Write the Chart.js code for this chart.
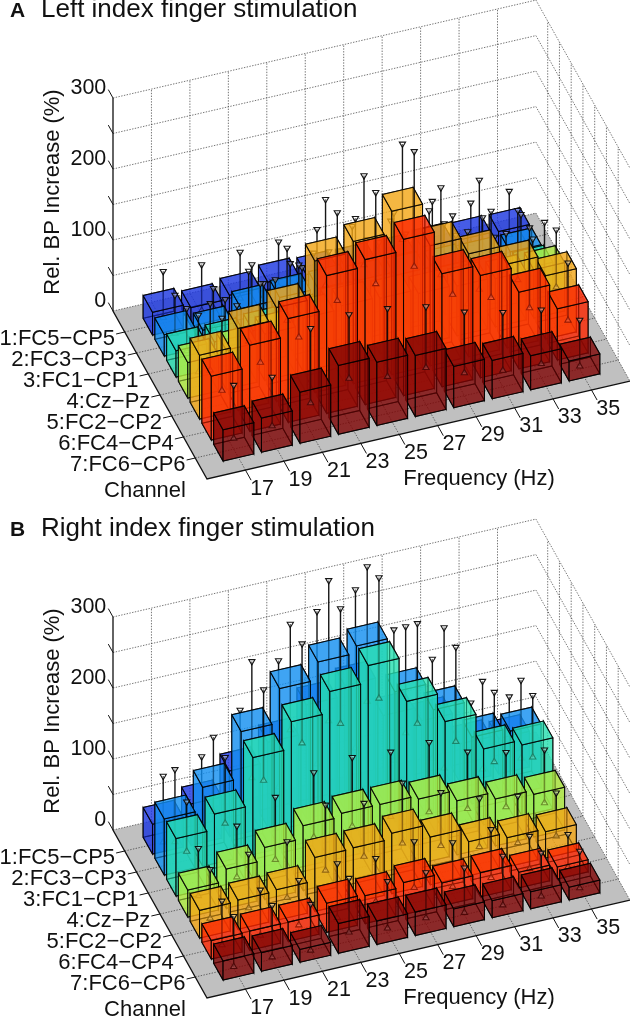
<!DOCTYPE html>
<html>
<head>
<meta charset="utf-8">
<title>Rel. BP Increase</title>
<script src="https://cdn.jsdelivr.net/npm/chart.js@4"></script>
<style>
  html, body { margin: 0; padding: 0; background: #fff; overflow: hidden; }
  canvas { display: block; }
  #chartB { margin-top: -9px; }
</style>
</head>
<body>
<canvas id="chartA" width="630" height="519"></canvas>
<canvas id="chartB" width="630" height="507"></canvas>
<script>
const freqTicks = [17, 19, 21, 23, 25, 27, 29, 31, 33, 35];
const channelLabels = ["1:FC5−CP5", "2:FC3−CP3", "3:FC1−CP1", "4:Cz−Pz", "5:FC2−CP2", "6:FC4−CP4", "7:FC6−CP6"];
const bpTicks = [0, 50, 100, 150, 200, 250, 300];
const bpLabels = [0, 100, 200, 300];
const channelColors = ["#1a35e0", "#128ff0", "#28dfb0", "#b0ee40", "#f2a516", "#fb2600", "#7e0606"];

// one row per channel, one column per frequency
const leftValues = [
  [32, 26, 31, 37, 35, 34, 33, 36, 34, 33],
  [30, 24, 42, 45, 45, 40, 38, 36, 34, 34],
  [37, 37, 40, 45, 50, 50, 45, 42, 40, 39],
  [50, 55, 65, 75, 80, 78, 72, 70, 68, 68],
  [90, 115, 132, 185, 200, 230, 169, 145, 118, 89],
  [90, 121, 146, 194, 204, 220, 159, 144, 108, 72],
  [44, 48, 72, 97, 89, 86, 58, 54, 48, 28],
];
const leftHigh = [
  [73, 70, 75, 77, 82, 85, 80, 84, 69, 73],
  [69, 66, 87, 76, 80, 85, 80, 82, 78, 70],
  [80, 80, 90, 100, 110, 110, 105, 95, 80, 65],
  [100, 101, 125, 150, 175, 170, 172, 130, 115, 118],
  [146, 179, 199, 255, 276, 308, 234, 232, 177, 137],
  [155, 191, 205, 266, 282, 327, 224, 218, 182, 120],
  [90, 89, 145, 152, 148, 138, 118, 105, 96, 69],
];
const leftLow = [
  [8, 5, 10, 14, 15, 13, 12, 15, 12, 12],
  [15, 10, 15, 18, 20, 18, 16, 15, 15, 10],
  [20, 20, 22, 25, 28, 25, 22, 20, 18, 15],
  [20, 25, 30, 35, 38, 32, 30, 28, 25, 22],
  [52, 80, 97, 134, 150, 173, 111, 78, 79, 56],
  [53, 80, 103, 142, 153, 165, 113, 96, 69, 39],
  [15, 20, 40, 62, 52, 52, 32, 23, 20, 4],
];

const rightValues = [
  [42, 58, 92, 120, 160, 175, 120, 100, 55, 50],
  [79, 111, 177, 225, 250, 260, 183, 145, 94, 90],
  [81, 103, 170, 208, 238, 262, 199, 158, 107, 100],
  [38, 55, 73, 91, 96, 96, 91, 76, 66, 60],
  [39, 41, 43, 76, 77, 85, 67, 48, 41, 37],
  [26, 27, 27, 41, 39, 45, 32, 34, 22, 17],
  [27, 26, 18, 42, 33, 33, 25, 24, 24, 18],
];
const rightHigh = [
  [93, 108, 161, 218, 275, 293, 224, 170, 96, 92],
  [132, 165, 259, 299, 348, 355, 258, 244, 156, 145],
  [116, 166, 249, 301, 338, 369, 292, 246, 170, 153],
  [80, 99, 127, 149, 158, 153, 154, 128, 115, 106],
  [80, 89, 94, 133, 123, 139, 113, 92, 83, 75],
  [65, 68, 69, 80, 75, 86, 72, 78, 56, 46],
  [73, 76, 65, 89, 72, 72, 66, 70, 62, 52],
];
const rightLow = [
  [0, 8, 23, 40, 60, 70, 40, 30, 15, 10],
  [30, 60, 95, 150, 150, 165, 108, 46, 32, 35],
  [46, 73, 121, 161, 176, 199, 151, 113, 72, 66],
  [13, 27, 39, 58, 61, 62, 56, 48, 38, 31],
  [11, 13, 15, 41, 48, 54, 38, 24, 17, 14],
  [3, 4, 6, 4, 14, 21, 10, 10, 10, 0],
  [2, 3, 0, 13, 6, 8, 3, 1, 1, 0],
];

// view of the 3d box, same for both panels
const freqMin = 15;
const freqMax = 37;
const channelMin = 0;
const channelMax = 8;
const barHalfFreq = 0.8;
const barHalfChannel = 0.4;

const project = (freq, channel, value) => {
  const u = (freq - freqMin) / 2;
  const v = channelMax - channel;
  return {
    x: 207 + u * 38.45 - v * 11.75,
    y: 479 - u * 8.9 - v * 21 - value * 0.71,
  };
};

const hexToRgba = (hex, alpha) => {
  const n = parseInt(hex.slice(1), 16);
  return `rgba(${n >> 16},${(n >> 8) & 255},${n & 255},${alpha})`;
};

const polyline = (points, color, width, dash) => ({
  data: points,
  borderColor: color,
  borderWidth: width,
  borderDash: dash,
  pointRadius: 0,
  fill: false,
});

const face = (points, fillColor) => ({
  data: [...points, points[0]],
  borderColor: "rgba(0,0,0,0.85)",
  borderWidth: 1.05,
  borderDash: [1000, 0],
  backgroundColor: fillColor,
  pointRadius: 0,
  fill: "shape",
});

const gridDatasets = () => {
  const sets = [];
  const dots = [1.4, 1.4];
  const gridColor = "rgba(50,50,50,0.85)";
  sets.push(face([
    project(freqMin, channelMax, 0), project(freqMax, channelMax, 0),
    project(freqMax, channelMin, 0), project(freqMin, channelMin, 0),
  ], "#c0c0c0"));
  sets[0].borderColor = "rgba(0,0,0,0)";
  bpTicks.forEach((bp) => {
    sets.push(polyline([project(freqMin, channelMin, bp), project(freqMax, channelMin, bp), project(freqMax, channelMax, bp)], gridColor, 0.8, dots));
  });
  freqTicks.forEach((f) => {
    sets.push(polyline([project(f, channelMax, 0), project(f, channelMin, 0), project(f, channelMin, 300)], gridColor, 0.8, dots));
  });
  channelLabels.forEach((label, c) => {
    const ch = c + 1;
    sets.push(polyline([project(freqMin, ch, 0), project(freqMax, ch, 0), project(freqMax, ch, 300)], gridColor, 0.8, dots));
  });
  return sets;
};

const axisDatasets = () => {
  const sets = [];
  const ink = "#111";
  sets.push(polyline([project(freqMin, channelMin, 300), project(freqMin, channelMin, 0), project(freqMin, channelMax, 0), project(freqMax, channelMax, 0)], ink, 1.3));
  bpTicks.forEach((bp) => {
    sets.push(polyline([project(freqMin, channelMin, bp), project(freqMin, channelMin - 0.4, bp)], ink, 1));
  });
  freqTicks.forEach((f) => {
    sets.push(polyline([project(f, channelMax, 0), project(f, channelMax + 0.48, 0)], ink, 1));
  });
  channelLabels.forEach((label, c) => {
    sets.push(polyline([project(freqMin, c + 1, 0), project(freqMin - 0.45, c + 1, 0)], ink, 1));
  });
  return sets;
};

const barDatasets = (values, high, low) => {
  const sets = [];
  // far channel first, far frequency first, so nearer boxes paint over
  values.forEach((row, c) => {
    const ch = c + 1;
    const fill = hexToRgba(channelColors[c], 0.56);
    for (let i = row.length - 1; i >= 0; i--) {
      const f = freqTicks[i];
      const v = row[i];
      const f0 = f - barHalfFreq;
      const f1 = f + barHalfFreq;
      const c0 = ch - barHalfChannel;
      const c1 = ch + barHalfChannel;
      const b = (fr, cn) => project(fr, cn, 0);
      const t = (fr, cn) => project(fr, cn, v);
      sets.push(face([b(f0, c0), b(f1, c0), b(f1, c1), b(f0, c1)], fill));
      sets.push(face([b(f1, c0), b(f0, c0), t(f0, c0), t(f1, c0)], fill));
      sets.push(face([b(f1, c0), b(f1, c1), t(f1, c1), t(f1, c0)], fill));
      sets.push({
        data: [project(f, ch, high[c][i]), project(f, ch, low[c][i])],
        borderColor: "rgba(10,10,10,0.95)",
        borderWidth: 1.4,
        pointStyle: "triangle",
        pointRadius: 3.6,
        pointRotation: [180, 0],
        pointBorderColor: "rgba(10,10,10,0.95)",
        pointBorderWidth: 1.1,
        pointBackgroundColor: "rgba(255,255,255,0.35)",
        fill: false,
      });
      sets.push(face([b(f0, c0), b(f0, c1), t(f0, c1), t(f0, c0)], fill));
      sets.push(face([b(f0, c1), b(f1, c1), t(f1, c1), t(f0, c1)], fill));
      sets.push(face([t(f0, c0), t(f1, c0), t(f1, c1), t(f0, c1)], fill));
    }
  });
  return sets;
};

const panelText = (letter, title) => ({
  id: "panelText",
  afterDatasetsDraw(chart) {
    const ctx = chart.ctx;
    const put = (text, x, y, align, font) => {
      ctx.font = font;
      ctx.textAlign = align;
      ctx.textBaseline = "middle";
      ctx.fillStyle = "#111";
      ctx.fillText(text, x, y);
    };
    const font = "22px 'Liberation Sans'";
    const tickFont = "21.5px 'Liberation Sans'";
    ctx.save();
    ctx.translate(0, chart.scales.y.getPixelForValue(0));
    put(letter, 10, 11, "left", "bold 21px 'Liberation Sans'");
    put(title, 41, 10, "left", "26px 'Liberation Sans'");
    bpLabels.forEach((bp) => {
      const p = project(freqMin, channelMin - 0.4, bp);
      put(String(bp), p.x - 2, p.y - 2, "right", tickFont);
    });
    freqTicks.forEach((f) => {
      const p = project(f, channelMax + 0.48, 0);
      put(String(f), p.x + 11, p.y + 8.5, "center", tickFont);
    });
    channelLabels.forEach((label, c) => {
      const p = project(freqMin - 0.45, c + 1, 0);
      put(label, p.x - 1, p.y + 5, "right", font);
    });
    put("Channel", 145, 491, "center", font);
    put("Frequency (Hz)", 479, 479, "center", font);
    ctx.translate(53, 192);
    ctx.rotate(-Math.PI / 2);
    put("Rel. BP Increase (%)", 0, 0, "center", font);
    ctx.restore();
  },
});

const drawPanel = (canvasId, letter, title, top, values, high, low) => {
  const canvas = document.getElementById(canvasId);
  const datasets = [...gridDatasets(), ...barDatasets(values, high, low), ...axisDatasets()];
  // chart.js paints the last dataset first
  datasets.reverse();
  new Chart(canvas.getContext("2d"), {
    type: "line",
    data: { datasets },
    options: {
      responsive: false,
      animation: false,
      events: [],
      devicePixelRatio: 1,
      layout: { padding: 0, autoPadding: false },
      plugins: { legend: { display: false }, tooltip: { enabled: false } },
      scales: {
        x: { type: "linear", display: false, min: 0, max: canvas.width },
        y: { type: "linear", display: false, min: top, max: top + canvas.height, reverse: true },
      },
    },
    plugins: [panelText(letter, title)],
  });
};

drawPanel("chartA", "A", "Left index finger stimulation", 0, leftValues, leftHigh, leftLow);
drawPanel("chartB", "B", "Right index finger stimulation", -9, rightValues, rightHigh, rightLow);
</script>
</body>
</html>
